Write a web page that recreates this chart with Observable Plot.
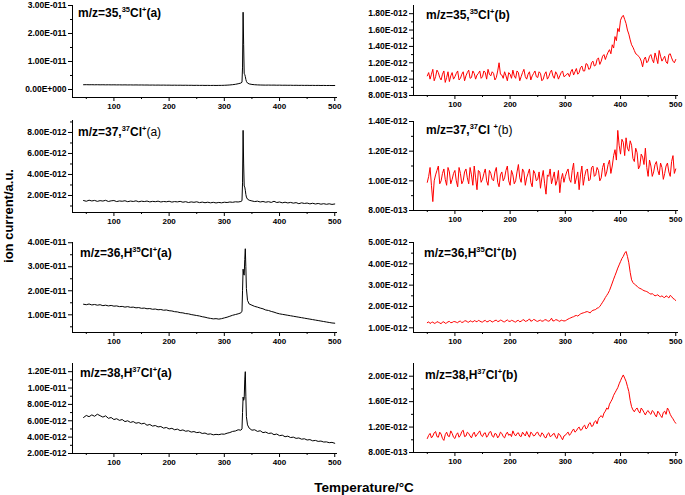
<!DOCTYPE html>
<html>
<head>
<meta charset="utf-8">
<script src="https://cdn.jsdelivr.net/npm/d3@7"></script>
<script src="https://cdn.jsdelivr.net/npm/@observablehq/plot@0.6"></script>
<style>
  html, body { margin: 0; padding: 0; background: #fff; color: #000; }
  #chart { position: relative; width: 685px; height: 495px; background: #fff; overflow: hidden;
           font-family: "Liberation Sans", Arial, sans-serif; }
  .panel { position: absolute; }
  .title { position: absolute; font-size: 12px; font-weight: bold; line-height: 14px; white-space: nowrap; }
  .title .sup { font-size: 7.5px; position: relative; top: -5px; }
  .title .reg { font-weight: normal; }
  .axlabel { position: absolute; font-weight: bold; white-space: nowrap; }
</style>
</head>
<body>
<div id="chart">
  <div class="title" style="left:78px;top:6px">m/z=35,<span class="sup">35</span>Cl<span class="sup">+</span>(a)</div>
  <div class="title" style="left:426px;top:8px">m/z=35,<span class="sup">35</span>Cl<span class="sup">+</span>(b)</div>
  <div class="title" style="left:78px;top:125px">m/z=37,<span class="sup">37</span>Cl<span class="sup">+</span><span class="reg">(a)</span></div>
  <div class="title" style="left:426px;top:123px">m/z=37,<span class="sup">37</span>Cl <span class="sup">+</span><span class="reg">(b)</span></div>
  <div class="title" style="left:80px;top:246px">m/z=36,H<span class="sup">35</span>Cl<span class="sup">+</span>(a)</div>
  <div class="title" style="left:424px;top:246px">m/z=36,H<span class="sup">35</span>Cl<span class="sup">+</span>(b)</div>
  <div class="title" style="left:80px;top:366px">m/z=38,H<span class="sup">37</span>Cl<span class="sup">+</span>(a)</div>
  <div class="title" style="left:425px;top:368px">m/z=38,H<span class="sup">37</span>Cl<span class="sup">+</span>(b)</div>
  <div class="axlabel" style="left:8px;top:216px;font-size:13px;transform:translate(-50%,-50%) rotate(-90deg)">ion current/a.u.</div>
  <div class="axlabel" style="left:364px;top:487px;font-size:13.5px;transform:translate(-50%,-50%)">Temperature/°C</div>
</div>
<script>
// ---------- data (ion current in units of 1e-12) ----------
const tempsA = [45,50,55,60,65,70,75,80,85,90,95,100,105,110,115,120,125,130,135,140,145,150,155,160,165,170,175,180,185,190,195,200,205,210,215,220,225,230,235,240,245,250,255,260,265,270,275,280,285,290,295,300,305,310,315,320,325,330,332,333,334,335,336,337,338,339,340,342,345,350,355,360,365,370,375,380,385,390,395,400,405,410,415,420,425,430,435,440,445,450,455,460,465,470,475,480,485,490,495,500];
const tempsB = [50,55,60,65,70,75,80,85,90,95,100,105,110,115,120,125,130,135,140,145,150,155,160,165,170,175,180,185,190,195,200,205,210,215,220,225,230,235,240,245,250,255,260,265,270,275,280,285,290,295,300,305,310,315,320,325,330,335,340,345,350,355,360,365,370,375,380,385,390,395,400,405,410,415,420,425,430,435,440,445,450,455,460,465,470,475,480,485,490,495,500];
const tempsBMid = [52.5,57.5,62.5,67.5,72.5,77.5,82.5,87.5,92.5,97.5,102.5,107.5,112.5,117.5,122.5,127.5,132.5,137.5,142.5,147.5,152.5,157.5,162.5,167.5,172.5,177.5,182.5,187.5,192.5,197.5,202.5,207.5,212.5,217.5,222.5,227.5,232.5,237.5,242.5,247.5,252.5,257.5,262.5,267.5,272.5,277.5,282.5,287.5,292.5,297.5,302.5,307.5,312.5,317.5,322.5,327.5,332.5,337.5,342.5,347.5,352.5,357.5,362.5,367.5,372.5,377.5,382.5,387.5,392.5,397.5,402.5,407.5,412.5,417.5,422.5,427.5,432.5,437.5,442.5,447.5,452.5,457.5,462.5,467.5,472.5,477.5,482.5,487.5,492.5,497.5];

// m/z=35 (a)
const cl35a = [1.70,1.72,1.69,1.71,1.68,1.70,1.67,1.69,1.66,1.68,
  1.65,1.67,1.64,1.66,1.63,1.65,1.62,1.64,1.61,1.63,
  1.60,1.62,1.59,1.60,1.57,1.59,1.56,1.58,1.55,1.57,
  1.54,1.55,1.52,1.54,1.51,1.53,1.50,1.52,1.49,1.50,
  1.47,1.49,1.46,1.48,1.45,1.47,1.44,1.46,1.44,1.46,
  1.47,1.50,1.55,1.62,1.72,1.85,2.05,2.30,
  2.6,8.0,27.6,16.0,5.6,5.4,4.6,3.6,2.9,2.3,
  2.00,1.80,1.70,1.64,1.60,1.58,1.56,1.58,1.55,1.57,1.53,1.55,1.51,1.53,1.50,1.52,1.48,1.50,1.47,1.49,1.46,1.48,1.45,1.47,1.44,1.46,1.43,1.45,1.42,1.44,1.41,1.43];
// m/z=35 (b): readings at tempsB and at tempsBMid
const cl35b = [1.04,1.00,1.12,1.03,1.08,0.99,1.10,1.02,0.97,1.08,
  1.03,1.10,1.01,1.09,1.04,1.11,1.02,1.07,1.05,1.10,
  1.03,1.08,1.12,1.04,1.07,1.02,1.20,1.05,1.09,0.98,
  1.06,1.11,1.01,1.08,1.03,1.12,1.00,1.09,1.04,1.10,
  1.02,1.07,1.00,1.09,1.03,1.11,1.01,1.06,1.04,1.10,
  1.04,1.07,1.09,1.05,1.13,1.08,1.16,1.10,1.18,1.13,
  1.22,1.17,1.26,1.22,1.30,1.29,1.36,1.42,1.52,1.62,
  1.72,1.78,1.68,1.55,1.42,1.35,1.30,1.26,1.15,1.27,
  1.22,1.30,1.20,1.26,1.35,1.22,1.28,1.19,1.31,1.22,
  1.24];
const cl35bMid = [1.08,1.06,0.98,1.11,1.02,1.06,0.96,1.09,1.04,1.00,
  1.07,0.99,1.06,0.98,1.08,1.01,1.10,1.00,1.07,1.01,
  1.10,1.00,1.06,1.09,0.99,1.10,1.06,1.01,1.04,1.08,
  1.01,1.04,1.10,0.98,1.08,1.03,1.06,0.99,1.07,1.03,
  1.09,0.98,1.06,1.00,1.08,1.04,1.09,1.00,1.08,1.03,
  1.06,1.03,1.12,1.09,1.06,1.14,1.10,1.19,1.12,1.20,
  1.16,1.24,1.18,1.28,1.24,1.33,1.31,1.38,1.47,1.58,
  1.76,1.73,1.60,1.48,1.39,1.31,1.28,1.22,1.24,1.20,
  1.28,1.24,1.32,1.19,1.28,1.25,1.21,1.30,1.26,1.20];
// m/z=37 (a)
const cl37a = [1.52,1.45,1.55,1.48,1.53,1.44,1.51,1.47,1.54,1.43,
  1.49,1.52,1.42,1.48,1.45,1.50,1.41,1.47,1.43,1.49,
  1.40,1.46,1.42,1.47,1.39,1.44,1.41,1.46,1.38,1.43,
  1.40,1.45,1.37,1.42,1.39,1.44,1.36,1.41,1.33,1.39,
  1.35,1.40,1.32,1.37,1.31,1.36,1.30,1.35,1.29,1.34,
  1.30,1.36,1.33,1.38,1.35,1.40,1.38,1.43,
  1.50,3.2,8.2,5.0,2.9,2.8,2.5,2.1,1.85,1.65,
  1.55,1.48,1.42,1.46,1.38,1.43,1.36,1.41,1.34,1.45,1.33,1.38,1.30,1.36,1.29,1.34,1.27,1.32,1.22,1.30,1.24,1.28,1.20,1.26,1.19,1.24,1.17,1.22,1.16,1.21,1.15,1.19];
// m/z=37 (b)
const cl37b = [0.99,1.09,0.86,1.04,1.10,1.00,1.08,0.97,1.06,1.01,
  1.07,0.96,1.05,1.00,1.08,0.98,1.04,1.10,0.94,1.06,
  1.01,1.08,0.97,1.05,1.00,1.09,0.96,1.06,1.02,1.10,
  0.97,1.04,1.00,1.11,0.99,1.06,1.02,1.08,0.96,1.05,
  1.01,0.95,1.07,0.91,1.03,0.98,1.06,1.00,0.92,1.05,
  1.03,1.08,0.99,1.12,1.02,0.94,1.10,1.03,1.08,1.01,
  1.10,1.04,1.07,1.02,1.12,1.06,1.14,1.10,1.21,1.34,
  1.18,1.26,1.29,1.20,1.24,1.13,1.19,1.10,1.16,1.22,
  1.03,1.10,1.06,1.13,1.04,1.09,1.05,1.12,1.03,1.17,
  1.08];
const cl37bMid = [1.03,0.97,1.00,1.07,0.98,1.05,1.01,1.09,0.98,1.05,
  1.00,1.09,0.98,1.06,1.02,1.09,0.97,1.02,1.07,0.99,
  1.05,1.00,1.07,1.01,1.06,0.99,1.04,1.00,1.07,1.00,
  1.07,0.98,1.06,1.02,1.08,0.97,1.05,0.99,1.07,1.00,
  1.06,1.02,0.98,1.04,1.08,1.02,0.97,1.07,1.01,0.99,
  1.06,1.01,1.07,0.98,1.06,1.04,0.97,1.07,1.00,1.09,
  1.03,1.09,1.00,1.09,1.03,1.11,1.05,1.17,1.14,1.24,
  1.28,1.17,1.22,1.27,1.15,1.22,1.08,1.18,1.11,1.09,
  1.14,1.03,1.11,1.07,1.12,1.01,1.10,1.06,1.13,1.05];
// m/z=36 (a)
const h35a = [14.4,14.2,14.5,14.1,14.3,14.0,14.2,13.8,14.0,13.7,
  13.9,13.6,13.7,13.4,13.5,13.2,13.4,13.1,13.2,12.9,
  13.0,12.7,12.8,12.5,12.6,12.3,12.4,12.1,12.2,11.9,
  12.0,11.7,11.6,11.3,11.2,10.9,10.8,10.5,10.4,10.1,
  9.9,9.7,9.5,9.2,9.0,8.7,8.5,8.3,8.4,8.2,
  8.4,8.7,9.0,9.4,9.8,10.1,10.4,10.8,
  11.5,20.0,29.0,27.0,26.5,33.0,37.5,30.0,21.0,16.0,
  14.5,14.0,13.5,13.2,12.8,12.5,12.0,11.8,11.4,11.1,10.7,10.4,10.2,10.0,9.8,9.6,9.4,9.2,9.0,8.8,8.6,8.4,8.2,8.0,7.8,7.6,7.4,7.2,7.0,6.8,6.6,6.5];
// m/z=36 (b)
const h35b = [1.24,1.20,1.27,1.22,1.26,1.19,1.28,1.23,1.30,1.25,
  1.29,1.24,1.31,1.27,1.33,1.26,1.30,1.34,1.28,1.32,
  1.27,1.35,1.29,1.33,1.30,1.36,1.31,1.34,1.28,1.37,
  1.30,1.33,1.27,1.35,1.31,1.38,1.32,1.42,1.33,1.37,
  1.30,1.36,1.32,1.38,1.31,1.45,1.33,1.37,1.30,1.34,
  1.33,1.41,1.47,1.52,1.58,1.60,1.68,1.72,1.76,1.70,
  1.82,1.86,1.94,2.10,2.30,2.52,2.75,3.10,3.45,3.80,
  4.10,4.35,4.58,4.05,3.25,3.05,2.95,2.85,2.78,2.72,
  2.66,2.58,2.55,2.52,2.48,2.50,2.42,2.46,2.52,2.38,
  2.28];
const h35bMid = [1.28,1.25,1.21,1.29,1.23,1.27,1.21,1.28,1.24,1.29,
  1.26,1.30,1.25,1.32,1.28,1.33,1.27,1.31,1.35,1.28,
  1.32,1.28,1.34,1.27,1.34,1.29,1.36,1.29,1.33,1.31,
  1.35,1.29,1.33,1.28,1.36,1.30,1.35,1.31,1.39,1.32,
  1.34,1.31,1.37,1.33,1.35,1.32,1.38,1.33,1.36,1.32,
  1.37,1.44,1.50,1.56,1.55,1.65,1.70,1.75,1.73,1.78,
  1.84,1.92,2.00,2.20,2.42,2.62,2.92,3.28,3.62,3.95,
  4.25,4.50,4.35,3.60,3.12,3.00,2.88,2.82,2.74,2.70,
  2.61,2.60,2.50,2.55,2.46,2.44,2.50,2.40,2.47,2.34];
// m/z=38 (a)
const h37a = [6.40,6.65,6.50,6.72,6.55,6.80,6.62,6.45,6.60,6.30,
  6.40,6.15,6.25,6.05,6.15,5.90,6.00,5.80,5.90,5.70,
  5.78,5.62,5.70,5.45,5.55,5.35,5.42,5.25,5.30,5.10,
  5.18,5.00,5.08,4.90,4.98,4.80,4.88,4.72,4.78,4.62,
  4.68,4.55,4.60,4.45,4.50,4.35,4.40,4.28,4.34,4.30,
  4.38,4.36,4.48,4.56,4.70,4.75,4.90,4.85,
  5.0,7.0,8.9,8.5,8.7,11.0,12.0,9.0,6.5,5.5,
  5.10,4.85,4.90,4.70,4.78,4.55,4.62,4.45,4.50,4.30,4.38,4.18,4.24,4.05,4.12,3.95,4.00,3.85,3.90,3.75,3.80,3.65,3.70,3.55,3.60,3.48,3.52,3.40,3.42,3.32,3.36,3.25];
// m/z=38 (b)
const h37b = [1.02,1.10,1.06,1.13,1.04,1.09,0.99,1.12,1.05,1.10,
  1.02,1.11,1.07,1.15,1.06,1.10,1.03,1.12,1.08,1.14,
  1.05,1.11,1.07,1.13,1.04,1.09,1.06,1.10,1.03,1.12,
  1.09,1.14,1.06,1.11,1.05,1.09,1.13,1.04,1.10,1.07,
  1.12,1.05,1.09,1.03,1.11,1.06,1.10,1.02,1.08,1.00,
  1.07,1.12,1.10,1.17,1.14,1.20,1.16,1.23,1.19,1.27,
  1.22,1.30,1.33,1.38,1.42,1.50,1.56,1.64,1.74,1.82,
  1.93,2.02,1.92,1.76,1.52,1.44,1.50,1.42,1.47,1.39,
  1.46,1.40,1.44,1.36,1.42,1.35,1.45,1.50,1.40,1.33,
  1.26];
const h37bMid = [1.07,1.03,1.11,1.05,1.12,1.02,1.08,1.06,1.14,1.04,
  1.08,1.04,1.13,1.05,1.12,1.06,1.09,1.05,1.11,1.07,
  1.10,1.04,1.12,1.06,1.10,1.03,1.12,1.05,1.09,1.07,
  1.05,1.09,1.10,1.06,1.12,1.06,1.08,1.12,1.06,1.11,
  1.07,1.11,1.04,1.09,1.05,1.09,1.04,1.10,1.04,1.06,
  1.10,1.07,1.14,1.12,1.18,1.15,1.21,1.17,1.25,1.21,
  1.28,1.25,1.36,1.35,1.45,1.48,1.60,1.70,1.78,1.88,
  1.98,1.97,1.84,1.62,1.47,1.48,1.45,1.50,1.43,1.44,
  1.42,1.46,1.39,1.45,1.38,1.43,1.40,1.46,1.36,1.29];

// tick values
const xMajor = [100,200,300,400,500];
const xMinor = [50,150,250,350,450];
const yTicksCl35a = [0,10,20,30],        yMinorCl35a = [5,15,25];
const yTicksCl35b = [0.8,1.0,1.2,1.4,1.6,1.8], yMinorCl35b = [0.9,1.1,1.3,1.5,1.7];
const yTicksCl37a = [2,4,6,8],           yMinorCl37a = [1,3,5,7,9];
const yTicksCl37b = [0.8,1.0,1.2,1.4],   yMinorCl37b = [0.9,1.1,1.3];
const yTicksH35a = [10,20,30,40],        yMinorH35a = [5,15,25,35];
const yTicksH35b = [1,2,3,4,5],          yMinorH35b = [1.5,2.5,3.5,4.5];
const yTicksH37a = [2,4,6,8,10,12],      yMinorH37a = [3,5,7,9,11];
const yTicksH37b = [0.8,1.2,1.6,2.0],    yMinorH37b = [1.0,1.4,1.8];

// ---------- layout ----------
const xDomain = [25, 505];
function fmtE(v) {
  if (Math.abs(v) < 1e-9) return "0.00E+000";
  const real = v * 1e-12;
  const e = Math.floor(Math.log10(Math.abs(real)) + 1e-9);
  const m = real / Math.pow(10, e);
  return m.toFixed(2) + "E" + (e < 0 ? "-" : "+") + String(Math.abs(e)).padStart(3, "0");
}

const panels = [
  {col:0, top:5,   bottom:97,  domain:[-2.86,30],   temps:tempsA, values:cl35a, ticks:yTicksCl35a, minor:yMinorCl35a, color:"#000"},
  {col:1, top:5,   bottom:95,  domain:[0.8,1.9],    temps:tempsB, values:cl35b, midT:tempsBMid, mid:cl35bMid, ticks:yTicksCl35b, minor:yMinorCl35b, color:"#ff0000"},
  {col:0, top:120, bottom:212, domain:[0.38,9.14],  temps:tempsA, values:cl37a, ticks:yTicksCl37a, minor:yMinorCl37a, color:"#000"},
  {col:1, top:121, bottom:210, domain:[0.8,1.4],    temps:tempsB, values:cl37b, midT:tempsBMid, mid:cl37bMid, ticks:yTicksCl37b, minor:yMinorCl37b, color:"#ff0000"},
  {col:0, top:242, bottom:332, domain:[2.63,40.1],  temps:tempsA, values:h35a,  ticks:yTicksH35a,  minor:yMinorH35a,  color:"#000"},
  {col:1, top:242, bottom:332, domain:[0.78,5.0],   temps:tempsB, values:h35b,  midT:tempsBMid, mid:h35bMid, ticks:yTicksH35b,  minor:yMinorH35b,  color:"#ff0000"},
  {col:0, top:363, bottom:453, domain:[2,13],       temps:tempsA, values:h37a,  ticks:yTicksH37a,  minor:yMinorH37a,  color:"#000"},
  {col:1, top:363, bottom:452, domain:[0.8,2.2],    temps:tempsB, values:h37b,  midT:tempsBMid, mid:h37bMid, ticks:yTicksH37b,  minor:yMinorH37b,  color:"#ff0000"}
];

const chart = document.getElementById("chart");
for (const p of panels) {
  if (p.temps.length !== p.values.length) throw new Error("length mismatch " + p.temps.length + " vs " + p.values.length);
  let data = p.temps.map((t, i) => ({t, v: p.values[i]}));
  if (p.mid) {
    if (p.midT.length !== p.mid.length) throw new Error("mid length mismatch " + p.midT.length + " vs " + p.mid.length);
    data = data.concat(p.midT.map((t, i) => ({t, v: p.mid[i]})));
    data.sort((a, b) => a.t - b.t);
  }
  const mt = 4, mb = 22;
  const left = p.col === 0 ? 0 : 345;
  const width = p.col === 0 ? 345 : 340;
  const svg = Plot.plot({
    width,
    height: p.bottom - p.top + mt + mb,
    marginLeft: p.col === 0 ? 72 : 68,
    marginRight: p.col === 0 ? 8 : 7,
    marginTop: mt,
    marginBottom: mb,
    style: {background: "transparent", overflow: "visible", fontFamily: "'Liberation Sans', Arial, sans-serif", color: "#000"},
    x: {domain: xDomain, label: null},
    y: {domain: p.domain, label: null},
    marks: [
      Plot.axisX({ticks: xMajor, tickSize: 4, tickPadding: 2, tickFormat: d => String(d), fontSize: 8, fontWeight: "bold", label: null}),
      Plot.axisX({ticks: xMinor, tickSize: 2, tickFormat: () => "", label: null}),
      Plot.axisY({ticks: p.ticks, tickSize: 4, tickPadding: 2, tickFormat: fmtE, fontSize: 8.5, fontWeight: "bold", label: null}),
      Plot.axisY({ticks: p.minor, tickSize: 2, tickFormat: () => "", label: null}),
      Plot.ruleX([xDomain[0]], {stroke: "#000"}),
      Plot.ruleY([p.domain[0]], {stroke: "#000"}),
      Plot.line(data, {x: "t", y: "v", stroke: p.color, strokeWidth: 1})
    ]
  });
  const wrap = document.createElement("div");
  wrap.className = "panel";
  wrap.style.left = left + "px";
  wrap.style.top = (p.top - mt) + "px";
  wrap.appendChild(svg);
  chart.insertBefore(wrap, chart.firstChild);
}
</script>
</body>
</html>
